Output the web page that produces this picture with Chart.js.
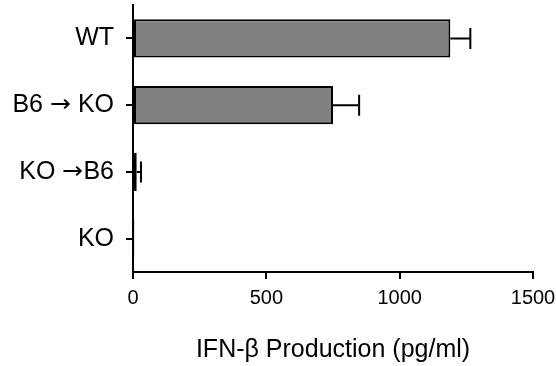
<!DOCTYPE html>
<html>
<head>
<meta charset="utf-8">
<script src="https://cdn.jsdelivr.net/npm/chart.js@4"></script>
<style>
  html, body { margin: 0; padding: 0; background: #fff; }
  #wrap { width: 556px; height: 366px; }
  @font-face { font-family: 'ArrowGlyph'; src: local('DejaVu Sans'); unicode-range: U+2192; }
</style>
</head>
<body>
<div id="wrap"><canvas id="ifn_chart" width="556" height="366"></canvas></div>
<script>
var groups = ['WT', 'B6 \u2192 KO', 'KO \u2192B6', 'KO'];
var production = [1190, 750, 14, 5];
var errors = [75, 98, 16, 0];
var xTicks = [0, 500, 1000, 1500];

var FONT = 'ArrowGlyph, "Liberation Sans", Arial, sans-serif';

// draws the +error whiskers using the chart's own scales
var errorBars = {
  id: 'errorBars',
  afterDatasetsDraw: function(chart) {
    var ctx = chart.ctx;
    var x = chart.scales.x;
    var meta = chart.getDatasetMeta(0);
    ctx.save();
    ctx.strokeStyle = '#000';
    ctx.lineWidth = 2;
    meta.data.forEach(function(bar, i) {
      if (!errors[i]) return;
      var x0 = x.getPixelForValue(production[i]);
      var x1 = x.getPixelForValue(production[i] + errors[i]);
      var y = bar.y;
      ctx.beginPath();
      ctx.moveTo(x0, y);
      ctx.lineTo(x1, y);
      ctx.moveTo(x1, y - 10.5);
      ctx.lineTo(x1, y + 10.5);
      ctx.stroke();
    });
    ctx.restore();
  }
};

var ifn_chart;

function drawChart() {
  ifn_chart = new Chart(
    document.getElementById('ifn_chart'), {
      type: 'bar',
      data: {
        labels: groups,
        datasets: [{
          label: 'IFN-\u03b2',
          data: production,
          backgroundColor: '#808080',
          borderColor: '#000',
          borderWidth: 2,
          borderSkipped: false,
          categoryPercentage: 1,
          barPercentage: 0.57
        }]
      },
      options: {
        indexAxis: 'y',
        responsive: false,
        animation: false,
        devicePixelRatio: 1,
        layout: { padding: { top: 5, right: 23, left: 0, bottom: 0 } },
        plugins: {
          legend: { display: false },
          tooltip: { enabled: false }
        },
        scales: {
          x: {
            min: 0,
            max: 1500,
            afterBuildTicks: function(scale) {
              scale.ticks = xTicks.map(function(v) { return { value: v }; });
            },
            afterFit: function(scale) {
              scale.height = 94;
              scale.paddingLeft = 0;
              scale.paddingRight = 0;
            },
            border: { display: true, color: '#000', width: 2 },
            grid: { display: true, drawOnChartArea: false, drawTicks: true, tickLength: 7, color: '#000', lineWidth: 2 },
            ticks: {
              color: '#000',
              padding: 7,
              maxRotation: 0,
              callback: function(v) { return String(v); },
              font: { family: FONT, size: 20 }
            },
            title: {
              display: true,
              text: 'IFN-\u03b2 Production (pg/ml)',
              color: '#000',
              padding: { top: 0, bottom: 1 },
              font: { family: FONT, size: 25 }
            }
          },
          y: {
            afterFit: function(scale) {
              scale.width = 133;
              scale.paddingTop = 0;
              scale.paddingBottom = 0;
            },
            border: { display: true, color: '#000', width: 2 },
            grid: { display: true, offset: false, drawOnChartArea: false, drawTicks: true, tickLength: 7, color: '#000', lineWidth: 2 },
            ticks: {
              color: '#000',
              padding: 12,
              font: { family: FONT, size: 25 }
            }
          }
        }
      },
      plugins: [errorBars]
    }
  );
}

document.addEventListener("DOMContentLoaded", function(event){
  document.fonts.load('24px ArrowGlyph', '\u2192').then(drawChart, drawChart);
});
</script>
</body>
</html>
